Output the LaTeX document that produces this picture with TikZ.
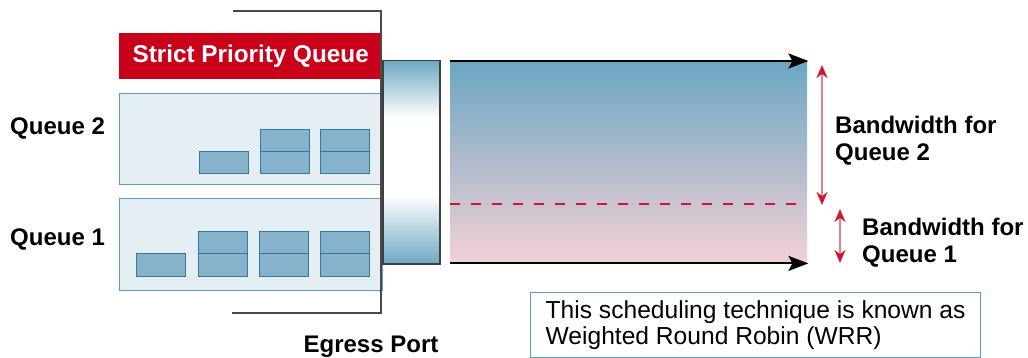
\documentclass[tikz,border=0pt]{standalone}
\usepackage{fontspec}
\setmainfont{Liberation Sans}
\usetikzlibrary{arrows.meta,positioning}

\definecolor{spqred}{HTML}{C8001A}
\definecolor{qfill}{HTML}{E4EEF3}
\definecolor{qline}{HTML}{5B9DBE}
\definecolor{pkfill}{HTML}{86B3CB}
\definecolor{pkline}{HTML}{2E7CA3}
\definecolor{pblue}{HTML}{6EA8C4}
\definecolor{bwtop}{HTML}{6BA6C2}
\definecolor{bwbot}{HTML}{F3D0D6}
\definecolor{bwred}{HTML}{D5152F}
\definecolor{bwpink}{HTML}{E57D8B}
\definecolor{framegray}{HTML}{4A4A4A}

\pgfdeclareverticalshading{portshade}{100bp}{color(0bp)=(pblue); color(25bp)=(pblue); color(42bp)=(white); color(61bp)=(white); color(75bp)=(pblue); color(100bp)=(pblue)}

\tikzset{
  lbl/.style={font=\bfseries\fontsize{24}{27}\selectfont, inner sep=0pt},
  queuebox/.style={draw=qline, fill=qfill, line width=1.2pt, minimum width=263pt, anchor=north west, inner sep=0pt},
  packet/.style={draw=pkline, fill=pkfill, line width=1.2pt, minimum width=49pt, minimum height=22pt, anchor=north west, inner sep=0pt},
  flow/.style={line width=2pt, -{Stealth[length=20pt, width=15pt, inset=4pt]}},
  bwarrow/.style={draw=bwpink, line width=2.2pt, {Stealth[length=13pt, width=11pt, color=bwred]}-{Stealth[length=13pt, width=11pt, color=bwred]}}
}

\begin{document}
\begin{tikzpicture}[x=1pt, y=-1pt]
  \useasboundingbox (0,0) rectangle (1028,358);

  % queues
  \node[fill=spqred, minimum width=263pt, minimum height=46pt, anchor=north west, inner sep=0pt,
        text=white, font=\bfseries\fontsize{24.3}{27}\selectfont] (spq) at (119,33) {Strict Priority Queue};
  \node[queuebox, minimum height=91pt] (queue2) at (119,93) {};
  \node[queuebox, minimum height=92pt] (queue1) at (119,198) {};

  \node[lbl, anchor=base west] (q2lbl) at (10,135) {Queue 2};
  \node[lbl, anchor=base west] (q1lbl) at (10,245) {Queue 1};

  % packets in queue 2
  \node[packet] (q2small) at (199,151) {};
  \foreach \px [count=\i] in {260,320} {
    \node[packet] (q2top\i) at (\px,129) {};
    \node[packet] (q2bot\i) at (\px,151) {};
  }
  % packets in queue 1
  \node[packet, minimum height=23pt] (q1small) at (136,253) {};
  \foreach \px [count=\i] in {198,259,320} {
    \node[packet, minimum height=22.5pt] (q1top\i) at (\px,231) {};
    \node[packet, minimum height=22.5pt] (q1bot\i) at (\px,253) {};
  }

  % egress port
  \draw[framegray, line width=1.5pt] (233,11) -- (381,11) -- (381,313) -- (232,313);
  \node[draw=framegray!85!black, line width=1.5pt, shading=portshade, minimum width=57pt,
        minimum height=203pt, anchor=north west, inner sep=0pt] (port) at (382,60) {};
  \node[lbl, anchor=base] (egress) at (371,352) {Egress Port};

  % bandwidth
  \node[top color=bwtop, bottom color=bwbot, minimum width=357pt, minimum height=202pt,
        anchor=north west, inner sep=0pt] (link) at (450,61) {};
  \draw[flow] (link.north west) -- ([xshift=1pt]link.north east);
  \draw[flow] (link.south west) -- ([xshift=1pt]link.south east);
  \coordinate (split) at (450,204);
  \draw[bwred, line width=2.5pt, dash pattern=on 10pt off 11pt] (split) -- (803,204);

  \coordinate (b2top) at (822,65);
  \coordinate (b2bot) at (822,205);
  \coordinate (b1top) at (840,209);
  \coordinate (b1bot) at (840,263);
  \draw[bwarrow] (b2top) -- (b2bot);
  \draw[bwarrow] (b1top) -- (b1bot);

  \node[lbl, align=left, anchor=north west] (bw2) at (835,115.5) {Bandwidth for\\Queue 2};
  \node[lbl, align=left, anchor=north west] (bw1) at (862,217.5) {Bandwidth for\\Queue 1};

  % note
  \node[draw=qline, line width=1.2pt, minimum width=450pt, minimum height=65pt, anchor=north west,
        align=left, font=\fontsize{24.6}{26}\selectfont] (note) at (530,292)
        {This scheduling technique is known as\\Weighted Round Robin (WRR)};
\end{tikzpicture}
\end{document}
